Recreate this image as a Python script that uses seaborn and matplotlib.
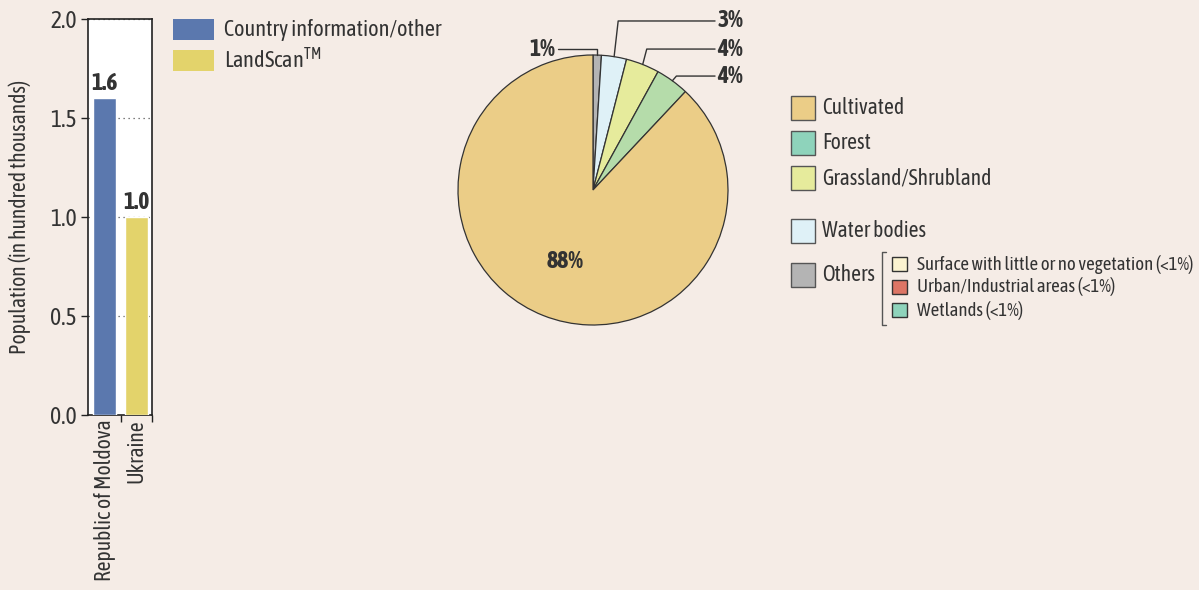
import numpy as np
import pandas as pd
import matplotlib.pyplot as plt
from matplotlib.patches import Rectangle
import seaborn as sns

# bar chart data
countries = ['Republic of Moldova', 'Ukraine']
population = [1.6, 1.0]
sources = ['Country information/other', 'LandScan$^{\\mathrm{TM}}$']
bar_colors = ['#5b78ae', '#e3d36b']

# pie chart data (clockwise from top)
cover = ['Others', 'Water bodies', 'Grassland/Shrubland', 'Forest', 'Cultivated']
cover_pct = [1, 3, 4, 4, 88]
pie_colors = ['#b4b4b4', '#dff1f7', '#e6eb9c', '#b5dcaa', '#ebcd87']

legend_main = ['Cultivated', 'Forest', 'Grassland/Shrubland', 'Water bodies', 'Others']
legend_main_colors = ['#ebcd87', '#8ed3bb', '#e6eb9c', '#dff1f7', '#b4b4b4']
legend_sub = ['Surface with little or no vegetation (<1%)', 'Urban/Industrial areas (<1%)', 'Wetlands (<1%)']
legend_sub_colors = ['#fbf3d0', '#dc7565', '#8ed3bb']

BG = '#f5ece6'
TXT = '#333333'
FONT = ['Asap Condensed', 'Liberation Sans Narrow', 'DejaVu Sans']

sns.set_style('white')
plt.rcParams['font.family'] = FONT
plt.rcParams['mathtext.fontset'] = 'custom'
plt.rcParams['mathtext.rm'] = 'Asap Condensed'

W, H = 1199, 590
fig = plt.figure(figsize=(W / 100, H / 100), dpi=100, facecolor=BG)

def px_axes(x0, y0, x1, y1):
    return fig.add_axes([x0 / W, 1 - y1 / H, (x1 - x0) / W, (y1 - y0) / H])

# ---------- bar chart ----------
ax = px_axes(88, 19, 152, 415)
df = pd.DataFrame({'country': countries, 'pop': population, 'source': sources})
sns.barplot(data=df, x='country', y='pop', hue='source', palette=bar_colors,
            dodge=False, width=0.72, ax=ax, legend=False, zorder=3, saturation=1)
ax.set_facecolor('white')
ax.set_xlim(-0.52, 1.48)
ax.set_ylim(0, 2.0)
ax.set_yticks([0, 0.5, 1.0, 1.5, 2.0])
ax.set_yticklabels(['%.1f' % v for v in [0, 0.5, 1.0, 1.5, 2.0]], fontsize=17, color=TXT)
ax.yaxis.grid(True, linestyle=(0, (1, 3)), color='#555555', lw=0.9, zorder=0)
ax.xaxis.grid(False)
ax.tick_params(axis='y', length=5, width=1, color='#222', left=True, pad=3)
ax.tick_params(axis='x', length=0, labelrotation=90, labelsize=15.5, labelcolor=TXT, pad=3)
ax.set_xticks([0.5, 1.48], minor=True)
ax.tick_params(axis='x', which='minor', length=5, width=1, color='#222', bottom=True)
ax.set_xlabel('')
ax.set_ylabel('Population (in hundred thousands)', fontsize=15.5, color=TXT, labelpad=14)
for s in ax.spines.values():
    s.set_color('#222')
    s.set_linewidth(1.2)
for c in ax.containers:
    ax.bar_label(c, fmt='%.1f', padding=2, fontsize=17, fontweight='bold', color=TXT)

# bar legend
for i, (lab, col) in enumerate(zip(sources, bar_colors)):
    y0 = 19 + i * 31
    fig.patches.append(Rectangle((173 / W, 1 - (y0 + 21) / H), 41 / W, 21 / H,
                                 transform=fig.transFigure, facecolor=col, edgecolor='none'))
    fig.text(224 / W, 1 - (y0 + 11) / H, lab, fontsize=16, color=TXT, va='center', ha='left')

# ---------- pie chart ----------
pax = px_axes(458, 55, 728, 325)
wedges, _ = pax.pie(cover_pct, colors=pie_colors, startangle=90, counterclock=False,
                    wedgeprops={'edgecolor': '#333333', 'linewidth': 0.9})
for w in wedges:
    w.set_clip_on(False)
pax.set_xlim(-1, 1)
pax.set_ylim(-1, 1)
pax.set_aspect('equal')
pax.axis('off')

# label positions (pie radius units)
label_y = {0: 1.044, 1: 1.252, 2: 1.044, 3: 0.844}
for i in range(4):
    w = wedges[i]
    ang = np.deg2rad((w.theta1 + w.theta2) / 2)
    ax_, ay_ = np.cos(ang), np.sin(ang)
    ly = label_y[i]
    if i == 0:
        pax.plot([ax_, ax_, -0.26], [ay_, ly, ly], color='#333', lw=1, clip_on=False)
        pax.text(-0.28, ly, '%d%%' % cover_pct[i], ha='right', va='center',
                 fontsize=17, fontweight='bold', color=TXT)
    else:
        ex = ax_ + 0.03
        pax.plot([ax_, ex, 0.904], [ay_, ly, ly], color='#333', lw=1, clip_on=False)
        pax.text(0.92, ly, '%d%%' % cover_pct[i], ha='left', va='center',
                 fontsize=17, fontweight='bold', color=TXT)
w = wedges[4]
ang = np.deg2rad((w.theta1 + w.theta2) / 2)
pax.text(0.57 * np.cos(ang), 0.57 * np.sin(ang), '%d%%' % cover_pct[4], ha='center',
         va='center', fontsize=17, fontweight='bold', color=TXT)

# pie legend
main_y = [108, 143, 178, 231, 275]
for lab, col, yc in zip(legend_main, legend_main_colors, main_y):
    fig.patches.append(Rectangle((791 / W, 1 - (yc + 12) / H), 24 / W, 24 / H,
                                 transform=fig.transFigure, facecolor=col,
                                 edgecolor='#555555', lw=1))
    fig.text(822 / W, 1 - yc / H, lab, fontsize=15.5, color=TXT, va='center', ha='left')

# bracket for "Others"
fig.add_artist(plt.Line2D([886 / W, 882 / W, 882 / W, 886 / W],
                          [1 - 252 / H, 1 - 252 / H, 1 - 325 / H, 1 - 325 / H],
                          color='#555555', lw=1))
sub_y = [264, 287, 310]
for lab, col, yc in zip(legend_sub, legend_sub_colors, sub_y):
    fig.patches.append(Rectangle((892 / W, 1 - (yc + 7) / H), 15 / W, 14 / H,
                                 transform=fig.transFigure, facecolor=col,
                                 edgecolor='#333333', lw=1))
    fig.text(917 / W, 1 - yc / H, lab, fontsize=13.5, color=TXT, va='center', ha='left')

plt.savefig('out.png', dpi=100, facecolor=BG)
